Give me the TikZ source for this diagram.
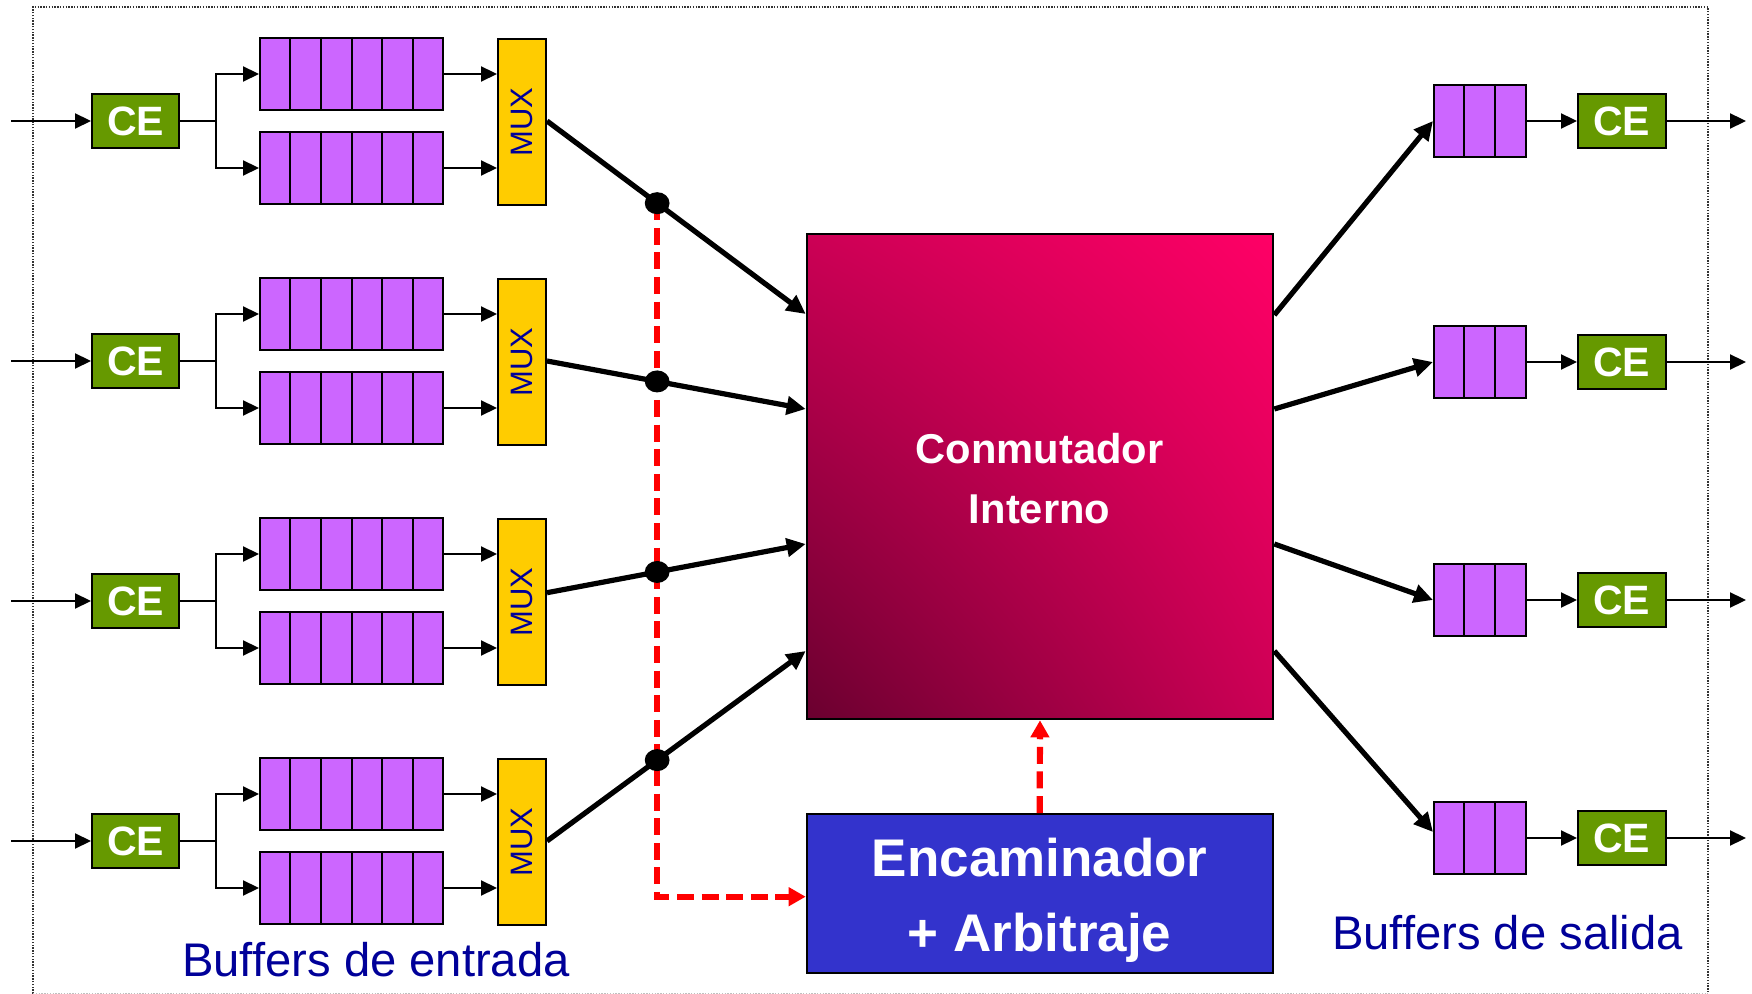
\documentclass[tikz,border=0pt]{standalone}
\usepackage{fontspec}
\setmainfont{Liberation Sans}
\usepackage{graphicx}
\usetikzlibrary{arrows.meta,calc,shadings,shapes.geometric}
\definecolor{qpurple}{HTML}{CC66FF}
\definecolor{cegreen}{HTML}{669900}
\definecolor{muxyellow}{HTML}{FFCC00}
\definecolor{encblue}{HTML}{3333CC}
\definecolor{navy}{HTML}{000099}
\definecolor{ctrlred}{HTML}{FF0000}
\definecolor{swhi}{HTML}{FF0066}
\definecolor{swmid}{HTML}{CC0055}
\definecolor{swlo}{HTML}{6A002F}
\begin{document}
\begin{tikzpicture}[x=0.5pt,y=-0.5pt,
  cebox/.style={draw=black, line width=1pt, fill=cegreen, text=white,
    font=\bfseries\fontsize{20.5}{24}\selectfont,
    minimum width=43.5pt, minimum height=27pt, inner sep=0pt},
  inq/.style={draw=black, line width=1pt, fill=qpurple,
    minimum width=91.5pt, minimum height=36pt, inner sep=0pt},
  outq/.style={inq, minimum width=45.85pt},
  muxbox/.style={draw=black, line width=1pt, fill=muxyellow, text=navy,
    font=\fontsize{15.5}{18}\selectfont,
    minimum width=24pt, minimum height=83pt, inner sep=0pt},
  thinline/.style={line width=1.1pt},
  thinarrow/.style={line width=1.1pt, -{Triangle[length=8pt,width=7.5pt]}},
  thickarrow/.style={line width=2.6pt, -{Triangle[length=9.5pt,width=9pt]}},
  ctrl/.style={draw=ctrlred, line width=3.1pt, dash pattern=on 8.5pt off 3.8pt,
    -{Triangle[length=8.5pt,width=9pt]}},
  junction/.style={ellipse, fill=black, minimum width=12.4pt, minimum height=11pt, inner sep=0pt},
  caption/.style={text=navy, font=\fontsize{23.6}{28}\selectfont, anchor=base, inner sep=0pt},
  divider/.style={line width=1pt},
  frame/.style={draw=black!80, line width=0.7pt, dash pattern=on 0.7pt off 0.7pt}
]
\useasboundingbox (0,0) rectangle (1752,994);

% outer dotted frame
\draw[frame] (33,993.5) -- (33,7) -- (1708,7) -- (1708,993.5);
\draw[frame, draw=black!25] (33,993.5) -- (1708,993.5);

% central switch
\node[draw=black, line width=1pt, minimum width=233.3pt, minimum height=242.65pt,
      inner sep=0pt, shading=bilinear interpolation,
      upper left=swmid, upper right=swhi, lower left=swlo, lower right=swmid]
      (sw) at (1040,476.65) {};
\node[font=\bfseries\fontsize{20.85}{30}\selectfont, text=white, align=center, inner sep=0pt]
      (swtext) at (1039.6,478.1) {Conmutador\\Interno};

% router / arbiter
\node[draw=black, line width=1pt, fill=encblue, minimum width=233pt, minimum height=79.65pt,
      inner sep=0pt] (enc) at (1039.7,893.7) {};
\node[font=\bfseries\fontsize{26.5}{37.5}\selectfont, text=white, align=center, inner sep=0pt]
      (enctext) at (1039.7,900.4) {Encaminador\\+ Arbitraje};

% input side
\foreach \i/\c in {1/121,2/361,3/601,4/841} {
  \coordinate (in\i) at (11,\c);
  \node[cebox] (ce\i) at (135.5,\c) {CE};
  \coordinate (br\i) at (216,\c);
  \node[inq] (qa\i) at (351.5,\c-47) {};
  \node[inq] (qb\i) at (351.5,\c+47) {};
  \node[muxbox] (mux\i) at (522,\c+1) {\rotatebox{90}{MUX}};
  \foreach \q in {qa\i,qb\i}
    \foreach \k in {1,...,5}
      \draw[divider] ($(\q.north west)!\k/6!(\q.north east)$) -- ($(\q.south west)!\k/6!(\q.south east)$);
  \draw[thinarrow] (in\i) -- (ce\i.west);
  \draw[thinline] (ce\i.east) -- (br\i);
  \draw[thinarrow] (br\i) |- (qa\i.west);
  \draw[thinarrow] (br\i) |- (qb\i.west);
  \draw[thinarrow] (qa\i.east) -- (qa\i.east -| mux\i.west);
  \draw[thinarrow] (qb\i.east) -- (qb\i.east -| mux\i.west);
}

% links from multiplexers into the switch
\foreach \i/\m/\s in {1/121/314,2/361/409,3/592.7/544,4/841/651} {
  \coordinate (m\i) at (mux\i.east |- 0,\m);
  \coordinate (s\i) at (sw.west |- 0,\s);
  \coordinate (d\i) at ($(m\i)!0.4258!(s\i)$);
  \draw[thickarrow] (m\i) -- (s\i);
}

% control paths
\coordinate (encin) at ($(enc.west)+(0,3)$);
\draw[ctrl] (d1) -- (d1 |- encin) -- (encin);
\draw[ctrl] (enc.north) -- (sw.south);

% junction dots
\foreach \i in {1,...,4}
  \node[junction] (dot\i) at (d\i) {};

% output side
\foreach \i/\y/\s/\o in {1/121/315/0,2/362/409/0,3/600/544/0,4/838/651/-6} {
  \node[outq] (oq\i) at (1479.85,\y) {};
  \foreach \k in {1,2}
    \draw[divider] ($(oq\i.north west)!\k/3!(oq\i.north east)$) -- ($(oq\i.south west)!\k/3!(oq\i.south east)$);
  \node[cebox, minimum width=43.85pt] (oce\i) at (1621.85,\y) {CE};
  \coordinate (out\i) at (1746,\y);
  \coordinate (se\i) at (sw.east |- 0,\s);
  \draw[thickarrow] (se\i) -- ($(oq\i.west)+(0,\o)$);
  \draw[thinarrow] (oq\i.east) -- (oce\i.west);
  \draw[thinarrow] (oce\i.east) -- (out\i);
}

% captions
\node[caption] (capin) at (376,976.7) {Buffers de entrada};
\node[caption] (capout) at (1507.4,949) {Buffers de salida};
\end{tikzpicture}
\end{document}
